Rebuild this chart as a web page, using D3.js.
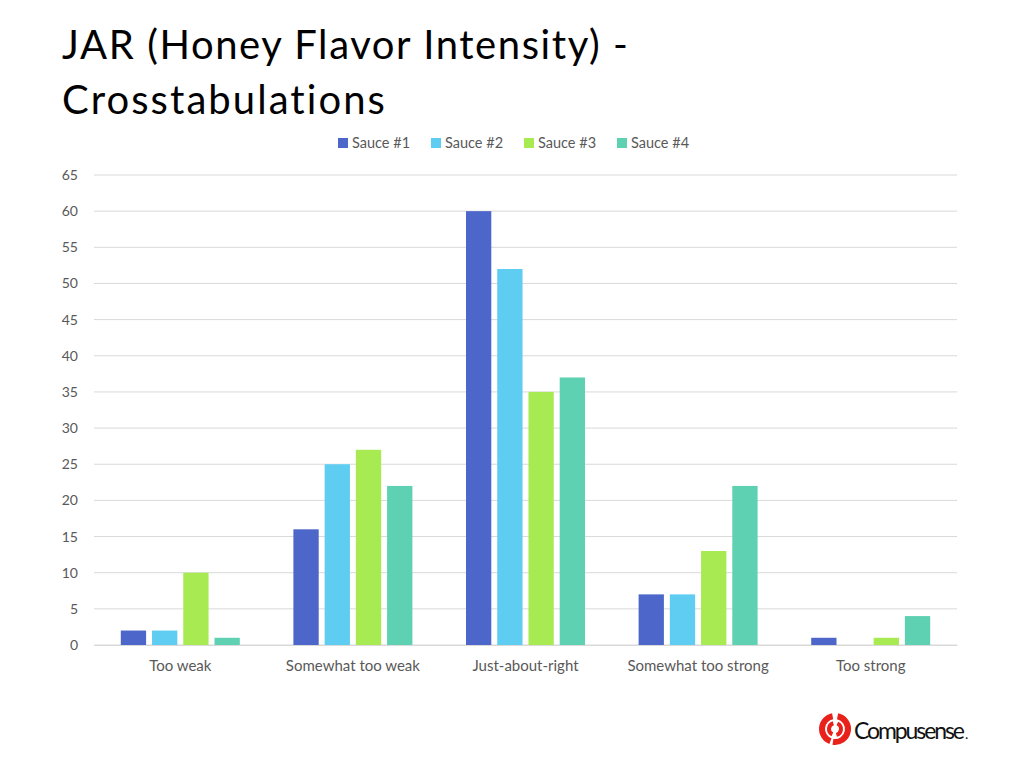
<!DOCTYPE html>
<html>
<head>
<meta charset="utf-8">
<script src="https://cdn.jsdelivr.net/npm/d3@7/dist/d3.min.js"></script>
<style>
  body { margin: 0; background: #fff; }
  svg { font-family: Lato, "Open Sans", sans-serif; font-variant-ligatures: none; }
  .title text { letter-spacing: 0.1px; font-feature-settings: "liga" 0, "clig" 0; }
</style>
</head>
<body>
<div id="chart"></div>
<script>
const categories = ["Too weak", "Somewhat too weak", "Just-about-right", "Somewhat too strong", "Too strong"];
const seriesNames = ["Sauce #1", "Sauce #2", "Sauce #3", "Sauce #4"];
const sauce1 = [2, 16, 60, 7, 1];
const sauce2 = [2, 25, 52, 7, 0];
const sauce3 = [10, 27, 35, 13, 1];
const sauce4 = [1, 22, 37, 22, 4];
const yTicks = d3.range(0, 66, 5);
const colors = ["#4d66c9", "#5fcdf2", "#a8ea52", "#5dd1b1"];

const seriesValues = [sauce1, sauce2, sauce3, sauce4];
const W = 1024, H = 768;
const margin = { left: 94, right: 67, top: 175, bottom: 123 };

const svg = d3.select("#chart").append("svg")
    .attr("width", W)
    .attr("height", H);

// title
const title = svg.append("g").attr("class", "title").attr("fill", "#000");
title.append("text").attr("x", 62).attr("y", 59)
    .attr("font-size", 40).attr("textLength", 566)
    .text("JAR (Honey Flavor Intensity) -");
title.append("text").attr("x", 62).attr("y", 114)
    .attr("font-size", 40).attr("textLength", 323)
    .text("Crosstabulations");

const x0 = d3.scaleBand()
    .domain(categories)
    .range([margin.left, W - margin.right]);

const groupSpan = 119;
const x1 = d3.scaleBand()
    .domain(seriesNames)
    .range([(x0.bandwidth() - groupSpan) / 2, (x0.bandwidth() + groupSpan) / 2])
    .paddingInner(0.19);

const y = d3.scaleLinear()
    .domain([0, 65])
    .range([H - margin.bottom, margin.top]);

// gridlines
svg.append("g")
    .selectAll("line")
    .data(yTicks)
    .join("line")
    .attr("x1", margin.left)
    .attr("x2", W - margin.right)
    .attr("y1", d => y(d))
    .attr("y2", d => y(d))
    .attr("stroke", "#d9d9d9")
    .attr("stroke-width", 1);

// y axis
const yAxis = svg.append("g")
    .attr("transform", `translate(${margin.left - 16},0)`)
    .call(d3.axisLeft(y).tickValues(yTicks).tickSize(0).tickPadding(0));
yAxis.select(".domain").remove();
yAxis.selectAll("text")
    .attr("font-size", 14)
    .attr("fill", "#595959")
    .attr("font-family", "Lato, sans-serif");

// bars
const groups = svg.append("g")
    .selectAll("g")
    .data(categories)
    .join("g")
    .attr("transform", d => `translate(${x0(d)},0)`);

groups.selectAll("rect")
    .data((c, i) => seriesNames.map((s, j) => ({ s, v: seriesValues[j][i], j })))
    .join("rect")
    .attr("x", d => x1(d.s))
    .attr("width", x1.bandwidth())
    .attr("y", d => y(d.v))
    .attr("height", d => y(0) - y(d.v))
    .attr("fill", d => colors[d.j]);

// x axis
const xAxis = svg.append("g")
    .attr("transform", `translate(0,${y(0)})`)
    .call(d3.axisBottom(x0).tickSize(0).tickPadding(15));
xAxis.select(".domain").attr("stroke", "#d9d9d9");
xAxis.selectAll("text")
    .attr("font-size", 15)
    .attr("fill", "#595959")
    .attr("font-family", "Lato, sans-serif");

// legend
const legendX = [338, 431, 524, 617];
const legend = svg.append("g")
    .selectAll("g")
    .data(seriesNames)
    .join("g")
    .attr("transform", (d, i) => `translate(${legendX[i]},138)`);
legend.append("rect")
    .attr("width", 10).attr("height", 10)
    .attr("fill", (d, i) => colors[i]);
legend.append("text")
    .attr("x", 14).attr("y", 10)
    .attr("font-size", 14.5)
    .attr("fill", "#595959")
    .text(d => d);

// logo
const logo = svg.append("g").attr("transform", "translate(835,729)");
const arc = d3.arc();
logo.append("path")
    .attr("d", arc({ innerRadius: 10, outerRadius: 16, startAngle: 0.2, endAngle: 3.3 }))
    .attr("fill", "#e8221b");
logo.append("path")
    .attr("d", arc({ innerRadius: 10, outerRadius: 16, startAngle: 3.5, endAngle: 6.1 }))
    .attr("fill", "#e8221b");
logo.append("path")
    .attr("d", arc({ innerRadius: 4, outerRadius: 8, startAngle: 3.6, endAngle: 6.0 }))
    .attr("fill", "#e8221b");
logo.append("path")
    .attr("d", arc({ innerRadius: 4, outerRadius: 8, startAngle: 0.4, endAngle: 2.9 }))
    .attr("fill", "#e8221b");
logo.append("text")
    .attr("x", 19).attr("y", 10)
    .attr("font-size", 23)
    .attr("font-family", "Lato, sans-serif")
    .attr("textLength", 111)
    .attr("fill", "#111")
    .text("Compusense");
logo.append("text")
    .attr("x", 130).attr("y", 10)
    .attr("font-size", 14)
    .attr("fill", "#111")
    .text(".");
</script>
</body>
</html>
